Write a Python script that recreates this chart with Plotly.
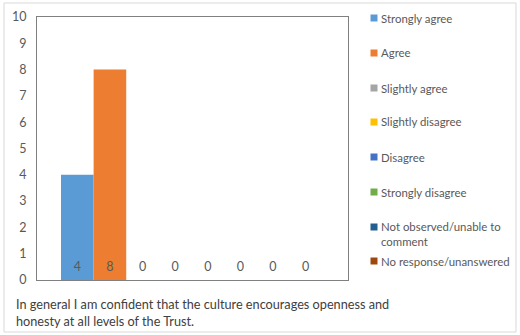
import plotly.graph_objects as go

# Survey responses for a single statement
responses = ["Strongly agree", "Agree", "Slightly agree", "Slightly disagree",
             "Disagree", "Strongly disagree", "Not observed/unable to<br>comment",
             "No response/unanswered"]
counts = [4, 8, 0, 0, 0, 0, 0, 0]
colors = ["#5B9BD5", "#ED7D31", "#A5A5A5", "#FFC000",
          "#4472C4", "#70AD47", "#255E91", "#9E480E"]
y_ticks = list(range(0, 11))
statement = ("In general I am confident that the culture encourages openness and<br>"
             "honesty at all levels of the Trust.")

FONT = "Lato, Calibri, Carlito, sans-serif"
TXT = "#595959"

# plot area in pixels
L, R, T, B = 37, 348, 17, 280
W, H = 520, 335


def px_x(p):
    return (p - L) / (R - L)


def px_y(p):
    return (B - p) / (B - T)


fig = go.Figure()
for i, (name, val, col) in enumerate(zip(responses, counts, colors)):
    fig.add_trace(go.Bar(
        x=[i], y=[val], width=1, name=name.replace("<br>", " "),
        marker=dict(color=col, line=dict(width=0)),
        showlegend=False,
    ))

# value labels near the base of each bar
fig.add_trace(go.Scatter(
    x=list(range(len(counts))), y=[0.45] * len(counts),
    text=[str(v) for v in counts], mode="text",
    textfont=dict(family=FONT, size=12.5, color=TXT),
    showlegend=False, hoverinfo="skip",
))

annotations = [dict(
    text=statement, xref="paper", yref="paper",
    x=px_x(14), y=px_y(294), xanchor="left", yanchor="top",
    align="left", showarrow=False,
    font=dict(family=FONT, size=12.7, color="#404040"),
)]
shapes = [dict(
    type="rect", xref="paper", yref="paper",
    x0=px_x(4), x1=px_x(516), y0=px_y(332), y1=px_y(3),
    line=dict(color="#D9D9D9", width=1),
)]

# legend: colour swatch + label(s) on the right of the plot
legend_y = [18, 53, 88, 122, 157, 192, 227, 261]
line_step = 14
for name, col, cy in zip(responses, colors, legend_y):
    shapes.append(dict(
        type="rect", xref="paper", yref="paper",
        x0=px_x(370.5), x1=px_x(377.5), y0=px_y(cy + 3.5), y1=px_y(cy - 3.5),
        fillcolor=col, line=dict(width=0),
    ))
    for k, part in enumerate(name.split("<br>")):
        annotations.append(dict(
            text=part, xref="paper", yref="paper",
            x=px_x(379), y=px_y(cy + k * line_step),
            xanchor="left", yanchor="middle", showarrow=False,
            font=dict(family=FONT, size=11.4, color=TXT),
        ))

fig.update_layout(
    width=W, height=H,
    margin=dict(l=L, r=W - R, t=T, b=H - B, autoexpand=False),
    paper_bgcolor="white", plot_bgcolor="white",
    font=dict(family=FONT, size=12, color=TXT),
    barmode="overlay",
    showlegend=False,
    annotations=annotations,
    shapes=shapes,
)

fig.update_xaxes(
    range=[-1.236, 8.30], showticklabels=False, showgrid=False,
    zeroline=False, showline=True, mirror=True, linecolor="#808080", linewidth=1,
)
fig.update_yaxes(
    range=[0, 10], tickvals=y_ticks, showgrid=False, zeroline=False,
    showline=True, mirror=True, linecolor="#808080", linewidth=1,
    ticklabelstandoff=7, tickfont=dict(family=FONT, size=12.5, color=TXT),
)

fig.write_html("out.html", config=dict(displayModeBar=False))
